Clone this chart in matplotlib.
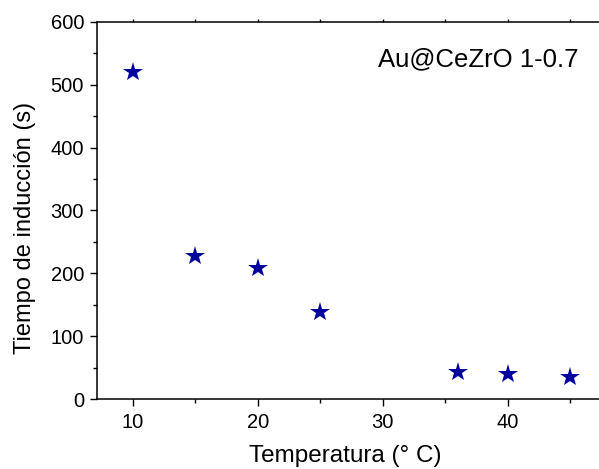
import matplotlib
matplotlib.use("Agg")
import matplotlib.pyplot as plt
from matplotlib.ticker import MultipleLocator

plt.rcParams['font.family'] = ['Liberation Sans', 'DejaVu Sans']

temperatura = [10, 15, 20, 25, 36, 40, 45]
tiempo = [520, 228, 208, 139, 43, 40, 35]

W, H = 599, 469
fig = plt.figure(figsize=(W / 100, H / 100), dpi=100)
left_px, right_px, top_px, bottom_px = 96.5, 607.7, 22, 399
ax = fig.add_axes([left_px / W, 1 - bottom_px / H,
                   (right_px - left_px) / W, (bottom_px - top_px) / H])

ax.plot(temperatura, tiempo, linestyle='none', marker='*', markersize=15,
        color='#00009c', markeredgewidth=0)

ax.set_xlim(7.1, 48)
ax.set_ylim(0, 600)
ax.xaxis.set_major_locator(MultipleLocator(10))
ax.xaxis.set_minor_locator(MultipleLocator(5))
ax.yaxis.set_major_locator(MultipleLocator(100))
ax.yaxis.set_minor_locator(MultipleLocator(50))

for s in ax.spines.values():
    s.set_linewidth(1.1)
ax.spines['right'].set_visible(False)

ax.tick_params(axis='both', which='major', direction='out', length=5, width=1,
               labelsize=14.5)
ax.tick_params(axis='both', which='minor', direction='out', length=3, width=1)
ax.tick_params(axis='x', which='major', pad=5)
ax.tick_params(axis='y', which='major', pad=4)

# short ticks along the top edge
ax.xaxis.set_tick_params(which='both', top=True, labeltop=False)
for tick in ax.xaxis.get_major_ticks() + ax.xaxis.get_minor_ticks():
    tick.tick2line.set_markersize(2)

ax.set_xlabel('Temperatura (° C)', fontsize=17.5)
ax.xaxis.label.set_verticalalignment('baseline')
ax.xaxis.set_label_coords(0.486, -0.168)

ax.set_ylabel('Tiempo de inducción (s)', fontsize=17)
ax.yaxis.label.set_verticalalignment('center')
ax.yaxis.set_label_coords(-0.14, 0.4536)

ax.text(0.943, 0.9, 'Au@CeZrO 1-0.7', transform=ax.transAxes, ha='right',
        va='center', fontsize=18.5)

fig.savefig('out.png', dpi=100)
